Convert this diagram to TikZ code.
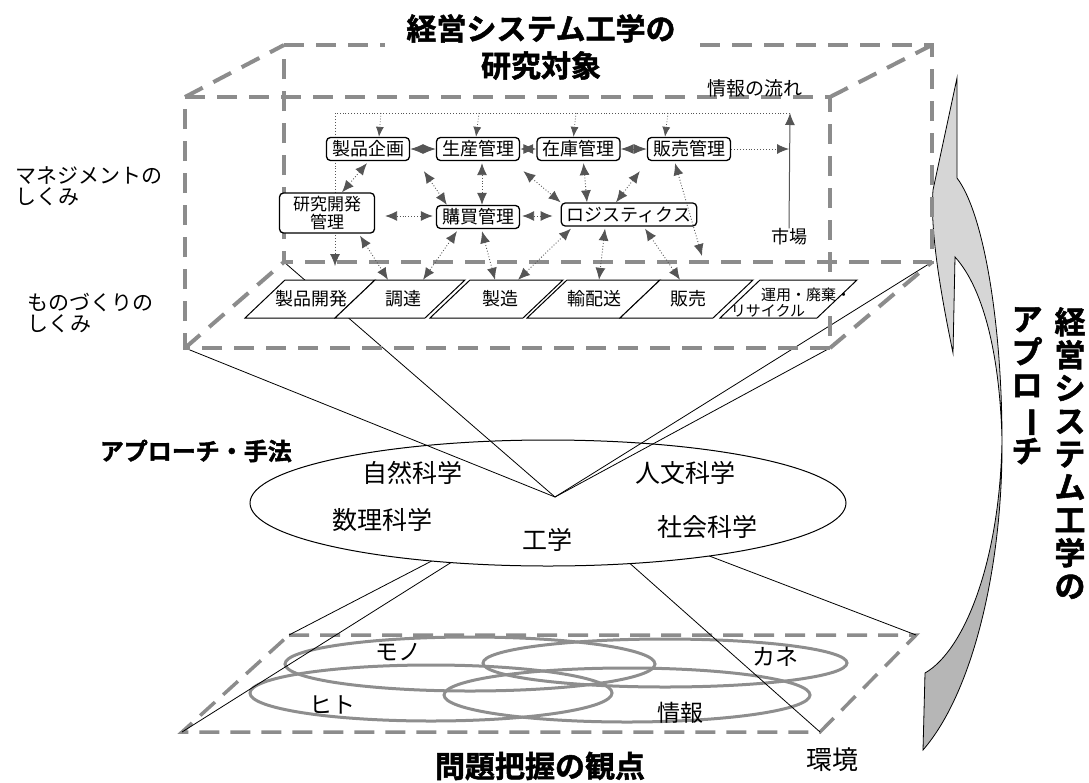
\documentclass[tikz,border=0pt]{standalone}
\usepackage{fontspec}
\usepackage{graphicx}
\usetikzlibrary{calc,arrows.meta,shapes.geometric}
\newfontfamily\jp{Noto Sans CJK JP}
\newfontfamily\jpb{Noto Sans CJK JP Bold}[FakeBold=1.6]
\definecolor{boxgray}{HTML}{8C8C8C}
\definecolor{ringgray}{HTML}{8E8E8E}
\definecolor{arrgray}{HTML}{555555}
\definecolor{lightarr}{HTML}{D6D6D6}
\definecolor{darkarr}{HTML}{B6B6B6}
\newcommand{\fs}[1]{\fontsize{#1}{#1}\selectfont}
\begin{document}
\begin{tikzpicture}[x=1pt,y=-1pt,
  wire/.style={draw=boxgray, line width=4pt, dash pattern=on 20pt off 12pt},
  plane/.style={draw=boxgray, line width=3.5pt, dash pattern=on 20pt off 11pt},
  ring/.style={draw=ringgray, line width=3pt},
  thinline/.style={draw=black, line width=0.8pt},
  mbox/.style={draw=black, line width=1.3pt, rounded corners=4pt, fill=white, font=\jp\fs{18}, inner xsep=5.5pt, inner ysep=1pt, minimum height=23pt},
  para/.style={draw=black, line width=1pt, fill=white},
  ptext/.style={font=\jp\fs{18}, inner sep=0pt, minimum height=38pt},
  flow/.style={draw=arrgray, line width=0.9pt, dotted, {Latex[length=12pt,width=10pt]}-{Latex[length=12pt,width=10pt]}},
  dia/.style={draw=arrgray, line width=1pt, {Latex[length=13pt,width=10pt]}-{Latex[length=13pt,width=10pt]}},
  oneway/.style={draw=arrgray, line width=0.9pt, dotted, -{Latex[length=12pt,width=10pt]}},
  tick/.style={draw=arrgray, line width=0.8pt, dotted, -{Latex[length=10pt,width=8pt]}},
  lbl/.style={font=\jp\fs{21}, align=left, inner sep=0pt},
  sci/.style={font=\jp\fs{25}, inner sep=0pt},
  res/.style={font=\jp\fs{23}, inner sep=0pt},
  bigtitle/.style={font=\jpb\fs{30}, inner sep=0pt},
  vtxt/.style={font=\jpb\fontsize{31}{33}\selectfont, align=center, inner sep=0pt}
]
\useasboundingbox (0,0) rectangle (1089,782);

% key coordinates
\coordinate (V) at (555,497);
\coordinate (FTL) at (185,97);
\coordinate (FTR) at (830,97);
\coordinate (FBR) at (830,348);
\coordinate (FBL) at (185,348);
\coordinate (BTL) at (284,45);
\coordinate (BTR) at (932,45);
\coordinate (BBR) at (932,262);
\coordinate (BBL) at (284,262);
\coordinate (PTL) at (289,635);
\coordinate (PTR) at (916,635);
\coordinate (PBR) at (820,732);
\coordinate (PBL) at (182,732);

% lower plane and resource rings
\draw[plane] (PTL) -- (PTR) -- (PBR) -- (PBL) -- cycle;
\draw[ring] (470,664) ellipse [x radius=185, y radius=27];
\draw[ring] (665,663) ellipse [x radius=182, y radius=24];
\draw[ring] (431,693) ellipse [x radius=181, y radius=28];
\draw[ring] (627,695) ellipse [x radius=183, y radius=27];

% lines to lower plane (hidden behind ellipse)
\draw[thinline] (V) -- (PTL);
\draw[thinline] (V) -- (PBL);
\draw[thinline] (V) -- (PTR);
\draw[thinline] (V) -- (PBR);

% approach ellipse
\node[draw, ellipse, line width=1pt, fill=white, minimum width=596pt, minimum height=126pt, inner sep=0pt] (appr) at (548,503) {};

% lines to upper box
\draw[thinline] (V) -- (FBL);
\draw[thinline] (V) -- (BBL);
\draw[thinline] (V) -- (FBR);
\draw[thinline] (V) -- (BBR);

% ellipse texts
\node[sci] (shizen) at (412,473) {自然科学};
\node[sci] (jinbun) at (685,473) {人文科学};
\node[sci] (suuri) at (382,520) {数理科学};
\node[sci] (kougaku) at (547,540) {工学};
\node[sci] (shakai) at (707,527) {社会科学};

% big curved arrow
\filldraw[fill=darkarr, draw=black, line width=0.8pt]
  (1002,440) .. controls (1003,560) and (975,690) .. (923,750)
  -- (925,673) .. controls (965,650) and (1000,560) .. (1002,440) -- cycle;
\filldraw[fill=lightarr, draw=black, line width=0.8pt]
  (957,78) -- (957,178) .. controls (985,215) and (1002,330) .. (1002,440)
  .. controls (1000,360) and (985,290) .. (955,257)
  -- (953,353) .. controls (940,290) and (930,230) .. (933,190) -- cycle;

% upper box wireframe
\draw[wire] (FTL) -- (FTR) -- (FBR) -- (FBL) -- cycle;
\draw[wire] (BTL) -- (BTR) -- (BBR) -- (BBL) -- cycle;
\draw[wire] (FTL) -- (BTL);
\draw[wire] (FTR) -- (BTR);
\draw[wire] (FBR) -- (BBR);
\draw[wire] (FBL) -- (BBL);

% parallelograms (manufacturing chain)
\foreach \a/\w in {285/90,375/90,470/93,567/93,660/93,760/97}
  \filldraw[para] (\a,280) -- ++(\w,0) -- ++(-40,38) -- ++(-\w,0) -- cycle;
\node[ptext] (p1) at (311,299) {製品開発};
\node[ptext] (p2) at (403,299) {調達};
\node[ptext] (p3) at (500,299) {製造};
\node[ptext] (p4) at (594,299) {輸配送};
\node[ptext] (p5) at (688,299) {販売};
\node[font=\jp\fs{15}, inner sep=0pt] (p6a) at (806,295) {運用・廃棄・};
\node[font=\jp\fs{15}, inner sep=0pt] (p6b) at (768,311) {リサイクル};

% information flow line (behind boxes)
\coordinate (infoR) at (790,113);
\coordinate (infoL) at (335,113);
\coordinate (infoEnd) at (335,266);
\draw[oneway] (infoR) -- (infoL) -- (infoEnd);

% management boxes
\node[mbox] (kikaku) at (368,149) {製品企画};
\node[mbox] (seisan) at (478,149) {生産管理};
\node[mbox] (zaiko) at (578.5,149) {在庫管理};
\node[mbox] (hanbai) at (689,149) {販売管理};
\node[mbox, minimum width=95pt, minimum height=40pt, align=center, font=\jp\fontsize{17}{18}\selectfont] (kenkyu) at (327,213) {研究開発\\管理};
\node[mbox] (koubai) at (478,217) {購買管理};
\node[mbox] (logi) at (629,214.5) {ロジスティクス};
\node[font=\jp\fs{18}, inner sep=0pt] (ichiba) at (789,237) {市場};
\node[font=\jp\fs{19}, inner sep=0pt] (joho) at (755,88) {情報の流れ};

% ticks from information line
\coordinate (t1) at (381,113);
\coordinate (t2) at (479,113);
\coordinate (t3) at (576,113);
\coordinate (t4) at (668,113);
\draw[tick] (t1) -- ($(kikaku.north)+(11,0)$);
\draw[tick] (t2) -- ($(seisan.north)+(-2,0)$);
\draw[tick] (t3) -- ($(zaiko.north)+(-5,0)$);
\draw[tick] (t4) -- ($(hanbai.north)+(-24,0)$);

% market
\coordinate (mktIn) at (789,149);
\draw[oneway] (hanbai.east) -- (mktIn);
\draw[draw=arrgray, line width=1pt, -{Latex[length=12pt,width=10pt]}] (ichiba.north) -- (infoR);

% diamond arrows between top boxes
\draw[dia] (kikaku.east) -- (seisan.west);
\draw[dia] (seisan.east) -- (zaiko.west);
\draw[dia] (zaiko.east) -- (hanbai.west);

% dotted relations
\coordinate (hbEnd) at (702,256);
\draw[flow] ($(kikaku.south)+(-1,2)$) -- ($(kenkyu.north)+(15,0)$);
\draw[flow] ($(seisan.south west)+(-12,10)$) -- ($(koubai.north west)+(11,0)$);
\draw[flow] ($(seisan.south)+(4,2)$) -- ($(koubai.north)+(4,0)$);
\draw[flow] ($(zaiko.south west)+(-13,10)$) -- ($(logi.north west)+(0,0)$);
\draw[flow] ($(zaiko.south)+(5,2)$) -- ($(logi.north)+(-42,0)$);
\draw[flow] ($(hanbai.south west)+(-7,10)$) -- ($(logi.north)+(-13,0)$);
\draw[flow] ($(hanbai.south)+(-14,2)$) -- (hbEnd);
\draw[flow] ($(kenkyu.east)+(10,3)$) -- ($(koubai.west)+(-3,-1)$);
\draw[flow] ($(koubai.east)+(2,-1)$) -- ($(logi.west)+(-8,1.5)$);
\draw[flow] ($(kenkyu.south)+(33,2)$) -- ($(p2.north)+(-15,0)$);
\draw[flow] ($(koubai.south)+(-21,2)$) -- ($(p2.north)+(20,0)$);
\draw[flow] ($(koubai.south)+(4,2)$) -- ($(p3.north)+(-5,0)$);
\draw[flow] ($(logi.south)+(-58,2)$) -- ($(p3.north)+(18,0)$);
\draw[flow] ($(logi.south)+(-24,2)$) -- ($(p4.north)+(5,0)$);
\draw[flow] ($(logi.south)+(16,2)$) -- ($(p5.north)+(-8,0)$);

% side labels
\node[lbl, anchor=west] (mgmt) at (15,186) {マネジメントの\\しくみ};
\node[lbl, anchor=west] (mono) at (27,313) {ものづくりの\\しくみ};

% titles
\node[bigtitle, fill=white, align=center, inner xsep=21pt, font=\jpb\fontsize{30}{37}\selectfont] (title) at (541,47) {経営システム工学の\\研究対象};
\node[font=\jpb\fs{24}, inner sep=0pt, anchor=east] (approach) at (292,451) {アプローチ・手法};
\node[bigtitle] (mondai) at (540,766) {問題把握の観点};

% resource labels
\node[res] (lmono) at (398,652) {モノ};
\node[res] (lkane) at (775,657) {カネ};
\node[res] (lhito) at (332,705) {ヒト};
\node[res] (ljoho) at (680,713) {情報};
\node[font=\jp\fs{26}, inner sep=0pt] (kankyo) at (832,760) {環境};

% vertical text
\node[vtxt, anchor=north] (vt1) at (1070,307) {経\\営\\シ\\ス\\テ\\ム\\工\\学\\の};
\node[vtxt, anchor=north] (vt2) at (1027,307) {ア\\プ\\ロ\\\rotatebox[origin=c]{-90}{ー}\\チ};
\end{tikzpicture}
\end{document}
